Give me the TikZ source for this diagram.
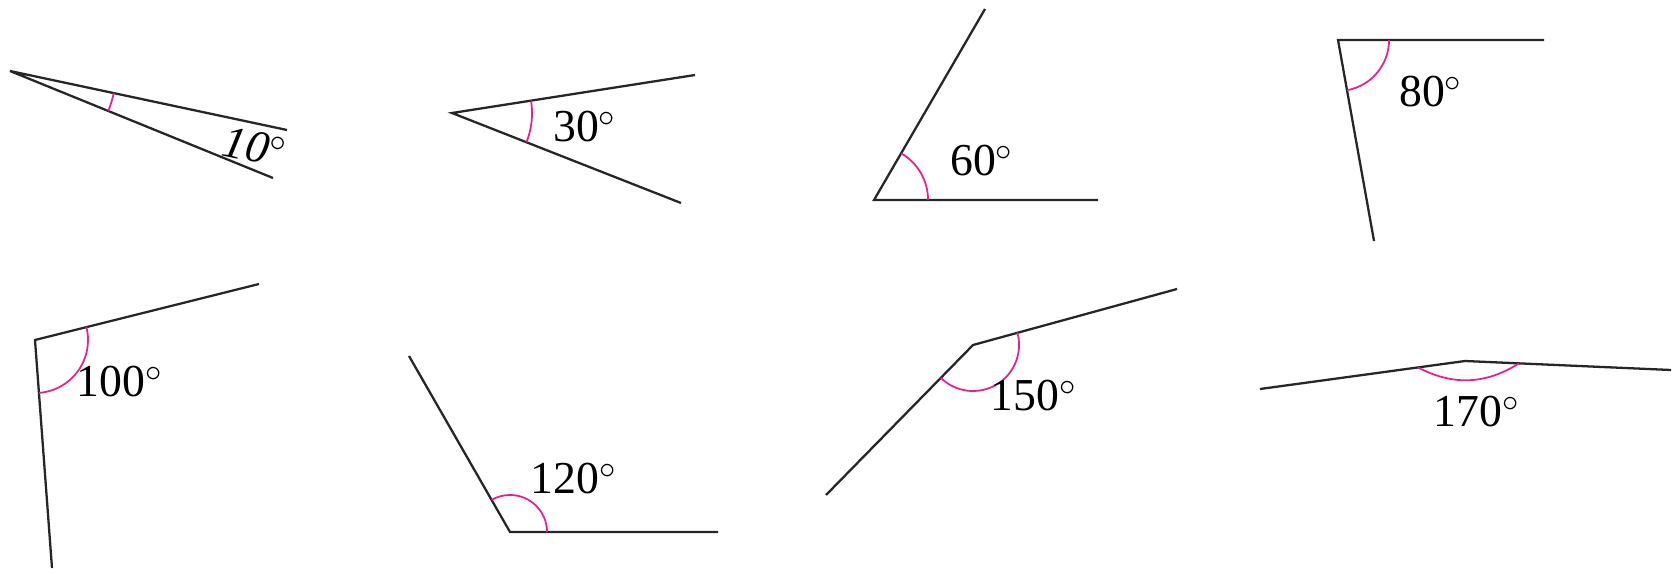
\documentclass[tikz,border=0pt]{standalone}
\usepackage{fontspec}
\setmainfont{Liberation Serif}
\usepackage{tikz}
\usetikzlibrary{angles,calc}
\definecolor{arcpink}{RGB}{236,30,140}

\begin{document}
\begin{tikzpicture}[x=0.01cm,y=-0.01cm,every node/.style={font=\fontsize{13}{15}\selectfont,inner sep=0pt},
 ray/.style={draw=black!85,line width=0.65pt},mk/.style={draw=arcpink,line width=0.5pt}]
\useasboundingbox (0,0) rectangle (1677,573);
% top row
\coordinate (v1) at (10,71);\coordinate (a1) at (287,130);\coordinate (b1) at (273,178);
\coordinate (v2) at (452,113);\coordinate (a2) at (695,75);\coordinate (b2) at (681,203);
\coordinate (v3) at (874,200);\coordinate (a3) at (985,9);\coordinate (b3) at (1098,200);
\coordinate (v4) at (1338,40);\coordinate (a4) at (1544,40);\coordinate (b4) at (1374,241);
% bottom row
\coordinate (v5) at (35,340);\coordinate (a5) at (259,284);\coordinate (b5) at (52,568);
\coordinate (v6) at (510,532);\coordinate (a6) at (409,356);\coordinate (b6) at (718,532);
\coordinate (v7) at (973,345);\coordinate (a7) at (1177,289);\coordinate (b7) at (826,495);
\coordinate (v8) at (1465,361);\coordinate (a8) at (1260,389);\coordinate (b8) at (1671,370);
\foreach \i in {1,...,8} \draw[ray] (a\i)--(v\i)--(b\i);
\pic[mk,angle radius=1.06cm] {angle=b1--v1--a1};
\pic[mk,angle radius=0.8cm] {angle=b2--v2--a2};
\pic[mk,angle radius=0.54cm] {angle=b3--v3--a3};
\pic[mk,angle radius=0.51cm] {angle=b4--v4--a4};
\pic[mk,angle radius=0.53cm] {angle=b5--v5--a5};
\pic[mk,angle radius=0.37cm] {angle=b6--v6--a6};
\pic[mk,angle radius=0.46cm] {angle=b7--v7--a7};
\coordinate (h1) at ($(v8)!0.475cm!(a8)$);\coordinate (h2) at ($(v8)!0.54cm!(b8)$);
\draw[mk] (h1) to[bend right=30] (h2);
\node[rotate=-12] (t1) at (255,147) {\itshape 10$^{\circ}$};
\node (t2) at (585,127) {30$^{\circ}$};
\node (t3) at (982,161) {60$^{\circ}$};
\node (t4) at (1431,92) {80$^{\circ}$};
\node (t5) at (120,382) {100$^{\circ}$};
\node (t6) at (574,479) {120$^{\circ}$};
\node (t7) at (1034,396) {150$^{\circ}$};
\node (t8) at (1477,412) {170$^{\circ}$};
\end{tikzpicture}
\end{document}
